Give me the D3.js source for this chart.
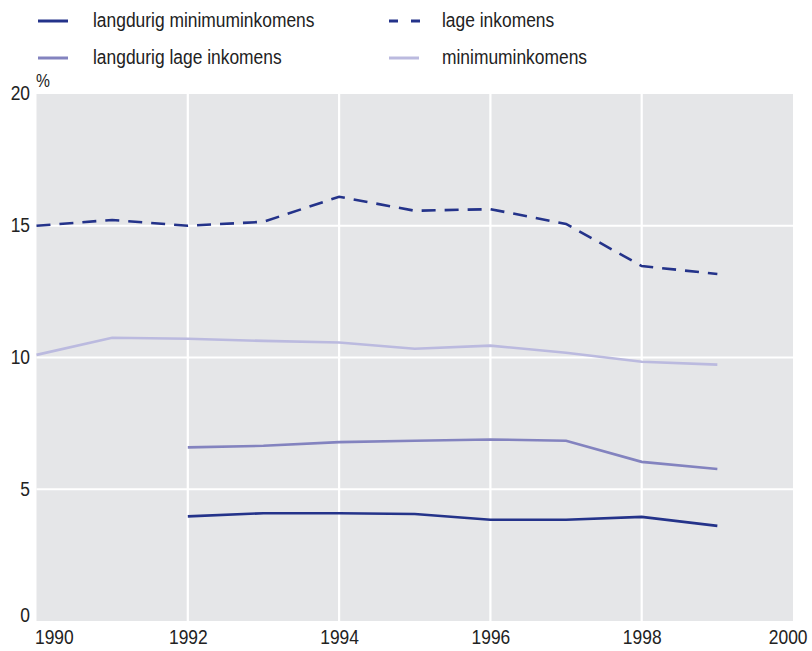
<!DOCTYPE html>
<html><head><meta charset="utf-8">
<script src="https://cdn.jsdelivr.net/npm/d3@7"></script>
<style>body{margin:0;background:#fff}svg{display:block}text{font-family:"Liberation Sans","Arial","Helvetica",sans-serif;fill:#222}</style>
</head><body><svg id="c" width="812" height="651"></svg>
<script>
const years = [1990,1991,1992,1993,1994,1995,1996,1997,1998,1999];
const lageInkomens = [15.0,15.22,15.0,15.15,16.1,15.57,15.63,15.07,13.47,13.17];
const minimumInkomens = [10.1,10.75,10.71,10.63,10.57,10.33,10.45,10.18,9.84,9.73];
const langdurigLage = [null,null,6.59,6.65,6.79,6.84,6.89,6.84,6.04,5.77];
const langdurigMinimum = [null,null,3.97,4.09,4.09,4.06,3.84,3.84,3.95,3.61];
const seriesNames = ["langdurig minimuminkomens","lage inkomens","langdurig lage inkomens","minimuminkomens"];
const xTicks = [1990,1992,1994,1996,1998,2000];
const yTicks = [0,5,10,15,20];

const series = [
  {name: seriesNames[0], values: langdurigMinimum, color: "#24338a", dash: null},
  {name: seriesNames[1], values: lageInkomens, color: "#24338a", dash: "14,9"},
  {name: seriesNames[2], values: langdurigLage, color: "#8383bf", dash: null},
  {name: seriesNames[3], values: minimumInkomens, color: "#bbbadf", dash: null}
];

const FS = "20px";
const SQ = 0.87;
const svg = d3.select("#c");
const x = d3.scaleLinear().domain([1990,2000]).range([36.5,793]);
const y = d3.scaleLinear().domain([0,20]).range([621,94]);

svg.append("rect").attr("x", x(1990)).attr("y", y(20)).attr("width", x(2000)-x(1990)).attr("height", y(0)-y(20)).attr("fill", "#e5e6e8");

const g = svg.append("g");
g.selectAll(".hg").data(yTicks.filter(d => d>0 && d<20)).join("line")
  .attr("x1", x(1990)).attr("x2", x(2000)).attr("y1", d=>y(d)).attr("y2", d=>y(d))
  .attr("stroke", "#fff").attr("stroke-width", 2.2);
g.selectAll(".vg").data(xTicks.filter(d => d>1990 && d<2000)).join("line")
  .attr("x1", d=>x(d)).attr("x2", d=>x(d)).attr("y1", y(20)).attr("y2", y(0))
  .attr("stroke", "#fff").attr("stroke-width", 2.2);

// axes
const xAxis = svg.append("g").attr("transform", `translate(0,${y(0)})`)
  .call(d3.axisBottom(x).tickValues(xTicks).tickFormat(d3.format("d")).tickSize(0).tickPadding(9));
xAxis.select(".domain").remove();
xAxis.selectAll("text").style("font-size",FS).style("font-family",'"Liberation Sans",Arial,sans-serif').attr("fill","#222");
xAxis.selectAll(".tick text").filter(d => d===1990).attr("text-anchor","start").attr("x",-2);
xAxis.selectAll(".tick text").filter(d => d===2000).attr("text-anchor","end").attr("x",14);

const yAxis = svg.append("g").attr("transform", `translate(30,0)`)
  .call(d3.axisLeft(y).tickValues(yTicks).tickSize(0).tickPadding(0));
yAxis.select(".domain").remove();
yAxis.selectAll("text").style("font-size",FS).style("font-family",'"Liberation Sans",Arial,sans-serif').attr("fill","#222").attr("dy","0.3em");
yAxis.selectAll(".tick text").filter(d => d===0).attr("dy","0.0em");
yAxis.selectAll(".tick text").filter(d => d===20).attr("dy","0.25em");

svg.append("text").attr("x", 36).attr("y", 87).style("font-size","18px").text("%");

const line = d3.line().defined(d => d.v != null).x(d => x(d.yr)).y(d => y(d.v));
series.forEach(s => {
  svg.append("path").datum(years.map((yr,i)=>({yr, v: s.values[i]})))
    .attr("d", line).attr("fill","none").attr("stroke", s.color)
    .attr("stroke-width", 2.6).attr("stroke-dasharray", s.dash);
});

// legend
const legPos = [[38,21],[389,21],[38,58],[389,58]];
series.forEach((s,i) => {
  const [lx, ly] = legPos[i];
  const lg = svg.append("g").attr("transform", `translate(${lx},${ly})`);
  if (s.dash) {
    lg.append("line").attr("x1",0).attr("x2",31).attr("y1",0).attr("y2",0)
      .attr("stroke", s.color).attr("stroke-width",3).attr("stroke-dasharray","9,13");
  } else {
    lg.append("line").attr("x1",0).attr("x2",30).attr("y1",0).attr("y2",0)
      .attr("stroke", s.color).attr("stroke-width",3);
  }
  lg.append("text").attr("x", i%2===0 ? 55 : 53).attr("y", 0).attr("dy","0.3em").style("font-size",FS).text(s.name);
});

// condense all text to mimic the narrow typeface
svg.selectAll("text").each(function(){
  const w = this.getComputedTextLength();
  d3.select(this).attr("textLength", w*SQ).attr("lengthAdjust","spacingAndGlyphs");
});
</script></body></html>
